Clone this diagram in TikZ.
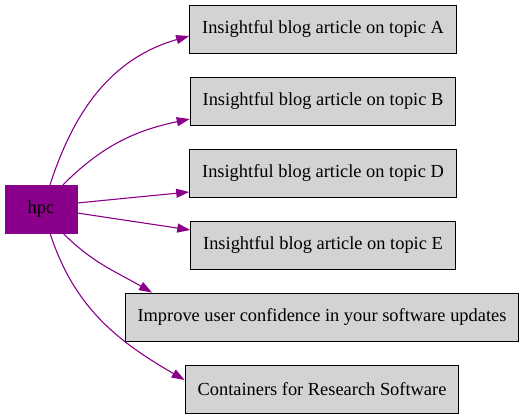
\documentclass[tikz,border=0pt]{standalone}
\usepackage{fontspec}
\setmainfont{Liberation Serif}
\usepackage{xcolor}
\definecolor{HpcPurple}{HTML}{8B008B}
\definecolor{BoxGray}{HTML}{D3D3D3}
\usetikzlibrary{arrows.meta}

\begin{document}
\begin{tikzpicture}[
    x=1pt, y=-1pt,
    topic/.style={rectangle, minimum height=48pt, inner xsep=12.5pt, draw=black, line width=0.9pt, fill=BoxGray, font=\fontsize{18.4}{22}\selectfont},
    root/.style={rectangle, minimum height=48pt, minimum width=72pt, fill=HpcPurple, draw=HpcPurple, font=\fontsize{18.4}{22}\selectfont},
    link/.style={-{Triangle[length=13pt, width=9pt]}, line width=1.1pt, HpcPurple}
]
\useasboundingbox (0,0) rectangle (525,419);

% Nodes
\node[root] (hpc) at (41,209) {hpc};
\node[topic] (a) at (323,29) {Insightful blog article on topic A};
\node[topic] (b) at (323,101) {Insightful blog article on topic B};
\node[topic] (d) at (323,173) {Insightful blog article on topic D};
\node[topic] (e) at (323,245) {Insightful blog article on topic E};
\node[topic] (conf) at (322,317) {Improve user confidence in your software updates};
\node[topic] (cont) at (322,389) {Containers for Research Software};

% Edges
\draw[link] ([xshift=9pt]hpc.north) to[out=72, in=196] ([yshift=-7pt]a.west);
\draw[link] ([xshift=22pt]hpc.north) to[out=45, in=192] ([yshift=-18pt]b.west);
\draw[link] ([yshift=6pt]hpc.east) -- ([yshift=-19pt]d.west);
\draw[link] ([yshift=-4pt]hpc.east) -- ([yshift=15pt]e.west);
\draw[link] ([xshift=22pt]hpc.south) to[out=-45, in=150] ([xshift=-170pt]conf.north);
\draw[link] ([xshift=9pt]hpc.south) to[out=-72, in=150] ([yshift=9pt]cont.west);

\end{tikzpicture}
\end{document}
